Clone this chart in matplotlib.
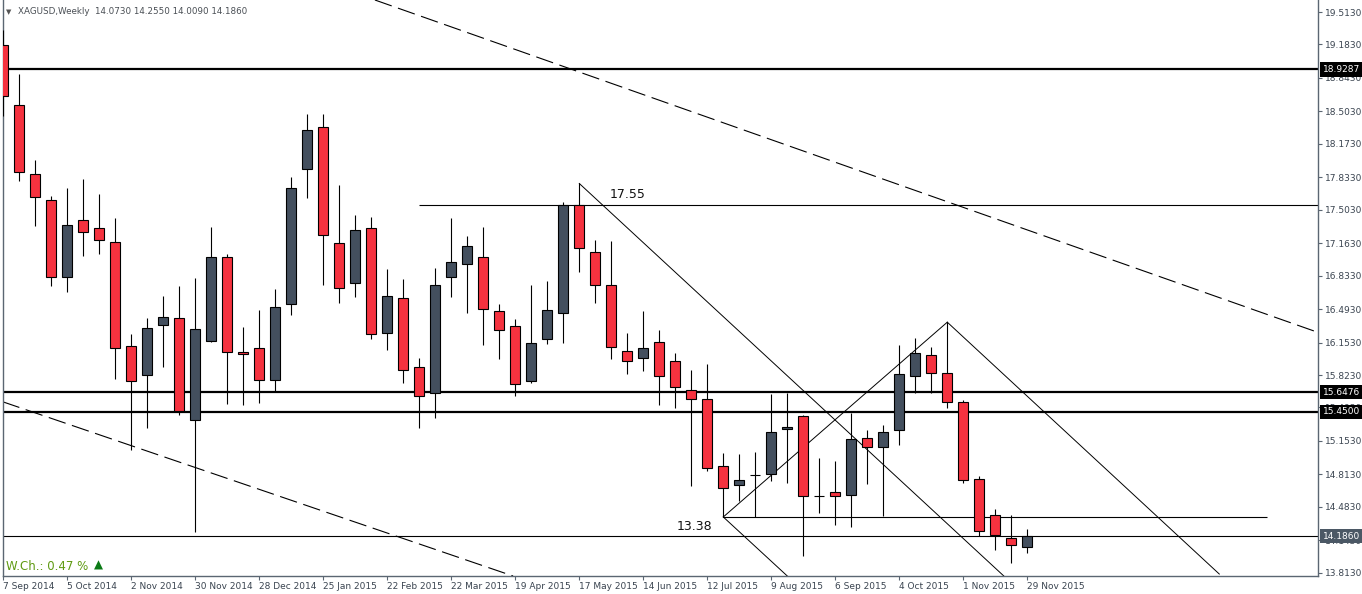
import numpy as np
import pandas as pd
import matplotlib
matplotlib.use("Agg")
import matplotlib.pyplot as plt
import matplotlib.transforms as mtransforms

# weekly XAGUSD candles, 7 Sep 2014 .. 29 Nov 2015
dates = pd.date_range("2014-09-07", periods=65, freq="7D")
opens = [19.18, 18.57, 17.87, 17.60, 16.82, 17.40, 17.32, 17.18, 16.12, 15.82,
         16.33, 16.40, 15.37, 16.17, 17.02, 16.06, 16.10, 15.77, 16.54, 17.92,
         18.34, 17.16, 16.76, 17.32, 16.25, 16.61, 15.90, 15.64, 16.82, 16.95,
         17.02, 16.47, 16.32, 15.76, 16.19, 16.45, 17.55, 17.07, 16.74, 16.07,
         16.00, 16.16, 15.97, 15.67, 15.58, 14.90, 14.70, 14.81, 14.82, 15.27,
         15.41, 14.59, 14.63, 14.60, 15.18, 15.09, 15.26, 15.81, 16.03, 15.84,
         15.55, 14.77, 14.40, 14.17, 14.073]
highs = [19.33, 18.88, 18.01, 17.64, 17.72, 17.82, 17.66, 17.42, 16.24, 16.40,
         16.63, 16.73, 16.81, 17.33, 17.05, 16.31, 16.48, 16.70, 17.84, 18.48,
         18.48, 17.75, 17.45, 17.43, 16.90, 16.80, 16.00, 16.91, 17.42, 17.24,
         17.33, 16.54, 16.39, 16.74, 16.78, 17.58, 17.77, 17.20, 17.19, 16.25,
         16.47, 16.28, 16.05, 15.87, 15.94, 15.03, 15.02, 15.04, 15.63, 15.64,
         15.42, 14.98, 14.95, 15.44, 15.26, 15.31, 16.13, 16.20, 16.11, 16.36,
         15.57, 14.80, 14.46, 14.40, 14.255]
lows = [18.46, 17.80, 17.34, 16.73, 16.67, 17.03, 17.05, 15.78, 15.06, 15.28,
        15.90, 15.42, 14.23, 16.16, 15.53, 15.52, 15.54, 15.66, 16.43, 17.62,
        16.74, 16.56, 16.62, 16.19, 16.08, 15.74, 15.28, 15.39, 16.62, 16.45,
        16.13, 15.99, 15.61, 15.74, 16.14, 16.15, 16.87, 16.55, 15.99, 15.83,
        15.86, 15.52, 15.49, 14.69, 14.85, 14.38, 14.54, 14.38, 14.75, 14.73,
        13.98, 14.42, 14.30, 14.28, 14.72, 14.39, 15.11, 15.64, 15.64, 15.49,
        14.73, 14.19, 14.04, 13.91, 14.009]
closes = [18.66, 17.89, 17.63, 16.82, 17.35, 17.28, 17.20, 16.10, 15.76, 16.30,
          16.41, 15.46, 16.29, 17.02, 16.06, 16.04, 15.77, 16.51, 17.72, 18.31,
          17.25, 16.71, 17.30, 16.24, 16.63, 15.87, 15.61, 16.74, 16.97, 17.13,
          16.49, 16.28, 15.73, 16.15, 16.48, 17.55, 17.11, 16.74, 16.11, 15.97,
          16.10, 15.81, 15.70, 15.58, 14.88, 14.67, 14.76, 14.81, 15.24, 15.29,
          14.59, 14.59, 14.59, 15.17, 15.09, 15.24, 15.83, 16.05, 15.84, 15.55,
          14.76, 14.24, 14.20, 14.10, 14.186]

price_ticks = [19.513, 19.183, 18.843, 18.503, 18.173, 17.833, 17.503, 17.163,
               16.833, 16.493, 16.153, 15.823, 15.493, 15.153, 14.813, 14.483,
               14.143, 13.813]
levels = [18.9287, 15.6476, 15.45]
current = 14.186

# drawn objects (week index, price)
top_channel = [(35.7, 18.92), (59.6, 17.55)]
bottom_channel = [(-0.2, 15.56), (27.9, 14.00)]
trend_segments = [[(36, 17.77), (62.6, 13.77)],
                  [(45, 14.38), (49, 13.78)],
                  [(45, 14.38), (59, 16.36)],
                  [(59, 16.36), (76, 13.80)]]
high_line = (26, 17.55)
low_line = (45, 79, 14.38)

W, H = 1362, 594
fig = plt.figure(figsize=(W / 100, H / 100), dpi=100)
ax = fig.add_axes([2.5 / W, 18 / H, (1318 - 2.5) / W, 576 / H])

x = np.arange(len(dates))
o = np.array(opens)
c = np.array(closes)
bull = c >= o
colors = np.where(bull, "#434f5e", "#f5323f")

ax.vlines(x, lows, highs, color="black", lw=0.8, zorder=3)
ax.bar(x, np.abs(c - o), bottom=np.minimum(o, c), width=0.64, color=colors,
       edgecolor="black", linewidth=0.8, zorder=4)

xmin, xmax = -0.05, 82.17
ax.set_xlim(xmin, xmax)
ax.set_ylim(13.78, 19.635)

for lv in levels:
    ax.axhline(lv, color="black", lw=1.6, zorder=2)
ax.axhline(current, color="black", lw=0.8, zorder=2)
ax.hlines(high_line[1], high_line[0], xmax, color="black", lw=0.8, zorder=2)
ax.hlines(low_line[2], low_line[0], low_line[1], color="black", lw=0.8, zorder=2)

ax.axline(top_channel[0], top_channel[1], color="black", lw=0.8,
          linestyle=(0, (16, 6)), zorder=2)
ax.axline(bottom_channel[0], bottom_channel[1], color="black", lw=0.8,
          linestyle=(0, (16, 6)), zorder=2)
for seg in trend_segments:
    ax.plot([seg[0][0], seg[1][0]], [seg[0][1], seg[1][1]], color="black",
            lw=0.7, zorder=2)

ax.text(39, 17.66, "17.55", ha="center", va="center", fontsize=9, color="#111111")
ax.text(43.2, 14.285, "13.38", ha="center", va="center", fontsize=9, color="#111111")

# axes styling
frame = "#5b6672"
for s in ax.spines.values():
    s.set_color(frame)
    s.set_linewidth(1)
ax.spines["top"].set_visible(False)

ax.yaxis.tick_right()
ax.set_yticks(price_ticks)
ax.set_yticklabels([f"{p:.4f}" for p in price_ticks])
ax.tick_params(axis="y", direction="out", length=3, width=0.8, pad=2,
               labelsize=6.5, colors=frame, labelcolor="#3a4450")

xt = list(range(0, 65, 4))
ax.set_xticks(xt)
ax.set_xticklabels([f"{dates[i].day} {dates[i].strftime('%b %Y')}" for i in xt],
                   ha="left")
ax.tick_params(axis="x", direction="out", length=3, width=0.8, pad=1.5,
               labelsize=6.5, colors=frame, labelcolor="#3a4450")

# price tags on the right axis (they cover the nearby tick labels, as in MT4)
tr = mtransforms.blended_transform_factory(ax.transAxes, ax.transData)
for lv in levels:
    ax.text(1.0035, lv, f"{lv:.4f}", transform=tr, ha="left", va="center",
            fontsize=6.5, color="white", zorder=10,
            bbox=dict(boxstyle="square,pad=0.3", fc="black", ec="none"))
ax.text(1.0035, current, f"{current:.4f}", transform=tr, ha="left", va="center",
        fontsize=6.5, color="white", zorder=10,
        bbox=dict(boxstyle="square,pad=0.3", fc="#4b5865", ec="none"))

# header and weekly change
fig.text(18 / W, 1 - 12 / H, "XAGUSD,Weekly  14.0730 14.2550 14.0090 14.1860",
         fontsize=6.3, color="#4a4f55", va="center", ha="left")
fig.text(6 / W, 1 - 12 / H, "▼", fontsize=5, color="#555555", va="center")
fig.text(6 / W, 1 - 566 / H, "W.Ch.: 0.47 %", fontsize=8.5, color="#5f9a12",
         va="center", ha="left")
fig.text(94 / W, 1 - 565 / H, "▲", fontsize=8.5, color="#0b7a16",
         va="center", ha="left")

fig.savefig("out.png", dpi=100)
